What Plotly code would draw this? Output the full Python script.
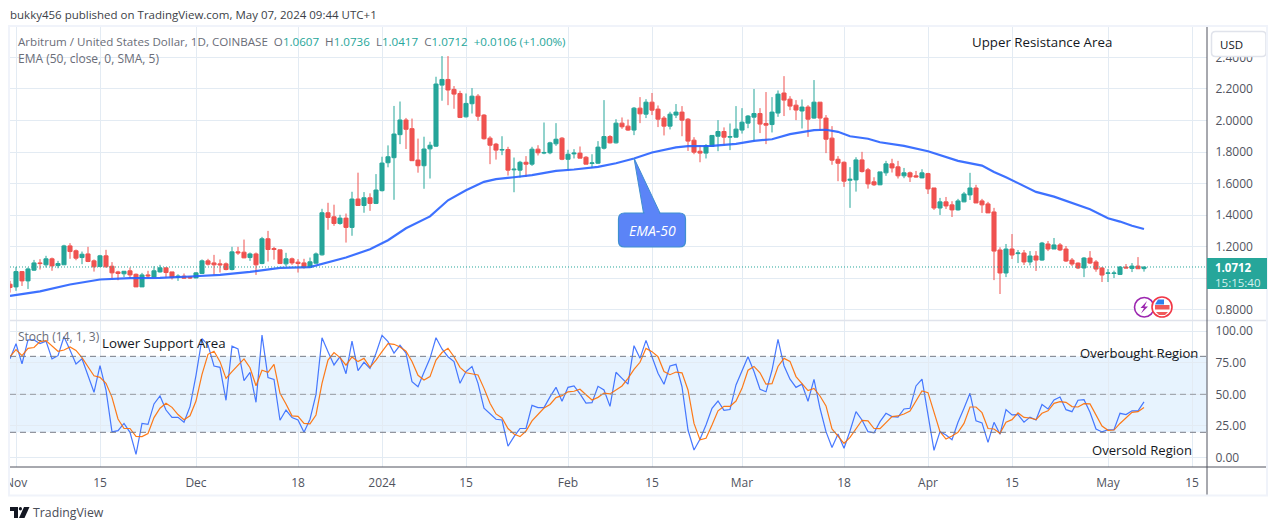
#!/usr/bin/env python
import pandas as pd
import plotly.graph_objects as go

W, H = 1281, 530

dates = pd.date_range("2023-10-31", "2024-05-07", freq="D")

# one row per day: open, high, low, close
ohlc = [
    (.962, .983, .909, .941),
    # Nov
    (.945, 1.072, .92, 1.042), (1.042, 1.045, .951, .983), (.983, 1.068, .932, 1.059), (1.051, 1.116, 1.047, 1.097),
    (1.097, 1.121, 1.055, 1.093), (1.085, 1.142, 1.068, 1.123), (1.123, 1.131, 1.047, 1.078), (1.08, 1.11, 1.063, 1.093),
    (1.085, 1.212, 1.085, 1.205), (1.205, 1.222, 1.123, 1.169), (1.174, 1.182, 1.114, 1.127), (1.131, 1.169, 1.089, 1.152),
    (1.154, 1.199, 1.102, 1.106), (1.11, 1.119, 1.042, 1.072), (1.074, 1.148, 1.07, 1.142), (1.142, 1.18, 1.068, 1.072),
    (1.076, 1.102, 1.0, 1.034), (1.04, 1.047, .987, 1.03), (1.028, 1.044, 1.008, 1.044), (1.047, 1.068, 1.0, 1.021),
    (1.025, 1.03, .945, .945), (.945, 1.034, .945, 1.021), (1.021, 1.047, 1.0, 1.015), (1.008, 1.076, 1.008, 1.047),
    (1.04, 1.085, 1.036, 1.066), (1.066, 1.066, 1.004, 1.036), (1.04, 1.04, .992, 1.004), (1.006, 1.025, .983, 1.013),
    (1.013, 1.03, .996, 1.0), (1.008, 1.013, .996, 1.002),
    # Dec
    (1.002, 1.038, 1.0, 1.034), (1.03, 1.119, 1.03, 1.11), (1.11, 1.123, 1.08, 1.089), (1.097, 1.148, 1.021, 1.085),
    (1.091, 1.119, 1.036, 1.085), (1.091, 1.1, 1.05, 1.055), (1.055, 1.199, 1.05, 1.167), (1.167, 1.199, 1.148, 1.161),
    (1.165, 1.245, 1.127, 1.129), (1.131, 1.163, 1.11, 1.154), (1.154, 1.163, 1.021, 1.085), (1.093, 1.262, 1.089, 1.25),
    (1.25, 1.3, 1.106, 1.182), (1.188, 1.199, 1.118, 1.182), (1.18, 1.18, 1.093, 1.093), (1.091, 1.161, 1.076, 1.123),
    (1.123, 1.131, 1.085, 1.097), (1.102, 1.121, 1.036, 1.093), (1.097, 1.123, 1.061, 1.068), (1.07, 1.131, 1.068, 1.104),
    (1.095, 1.163, 1.093, 1.154), (1.148, 1.44, 1.144, 1.415), (1.415, 1.478, 1.307, 1.385), (1.389, 1.466, 1.332, 1.347),
    (1.347, 1.402, 1.339, 1.381), (1.381, 1.41, 1.226, 1.322), (1.322, 1.548, 1.269, 1.502), (1.502, 1.669, 1.459, 1.461),
    (1.461, 1.546, 1.415, 1.51), (1.51, 1.538, 1.427, 1.474), (1.474, 1.66, 1.47, 1.559),
    # Jan
    (1.555, 1.77, 1.55, 1.73), (1.732, 1.842, 1.703, 1.77), (1.764, 2.092, 1.497, 1.914), (1.91, 2.12, 1.85, 2.003),
    (2.003, 2.016, 1.819, 1.944), (1.948, 2.012, 1.745, 1.745), (1.749, 1.885, 1.669, 1.713), (1.713, 1.897, 1.567, 1.819),
    (1.82, 1.865, 1.632, 1.843), (1.837, 2.277, 1.833, 2.231), (2.224, 2.408, 2.125, 2.26), (2.26, 2.408, 2.097, 2.193),
    (2.197, 2.218, 2.074, 2.167), (2.171, 2.188, 2.015, 2.019), (2.023, 2.171, 2.019, 2.108), (2.106, 2.205, 2.044, 2.154),
    (2.154, 2.167, 1.998, 2.027), (2.034, 2.04, 1.879, 1.884), (1.888, 1.9, 1.723, 1.843), (1.85, 1.858, 1.752, 1.812),
    (1.812, 1.9, 1.78, 1.816), (1.816, 1.833, 1.651, 1.685), (1.687, 1.765, 1.545, 1.691), (1.685, 1.744, 1.638, 1.735),
    (1.735, 1.774, 1.642, 1.723), (1.723, 1.833, 1.712, 1.818), (1.818, 1.843, 1.778, 1.795), (1.793, 1.987, 1.786, 1.797),
    (1.795, 1.865, 1.786, 1.858), (1.852, 1.983, 1.839, 1.881), (1.888, 1.894, 1.748, 1.754),
    # Feb
    (1.754, 1.814, 1.685, 1.786), (1.788, 1.818, 1.759, 1.793), (1.793, 1.835, 1.761, 1.761), (1.767, 1.774, 1.723, 1.723),
    (1.727, 1.786, 1.7, 1.731), (1.729, 1.869, 1.725, 1.831), (1.824, 2.129, 1.816, 1.898), (1.898, 1.907, 1.854, 1.858),
    (1.858, 2.008, 1.854, 1.983), (1.983, 2.019, 1.947, 1.96), (1.964, 2.006, 1.934, 1.939), (1.939, 2.085, 1.907, 2.078),
    (2.078, 2.148, 1.983, 2.042), (2.04, 2.135, 2.015, 2.116), (2.116, 2.174, 2.034, 2.065), (2.072, 2.095, 1.958, 2.008),
    (2.015, 2.028, 1.905, 1.964), (1.964, 2.055, 1.943, 2.04), (2.034, 2.104, 2.015, 2.053), (2.053, 2.091, 1.9, 2.002),
    (2.008, 2.015, 1.807, 1.869), (1.875, 1.894, 1.786, 1.799), (1.805, 1.843, 1.735, 1.793), (1.793, 1.85, 1.759, 1.841),
    (1.835, 1.907, 1.833, 1.905), (1.9, 2.002, 1.805, 1.93), (1.93, 1.956, 1.843, 1.894), (1.894, 1.981, 1.812, 1.898),
    (1.894, 2.091, 1.892, 1.945),
    # Mar
    (1.939, 2.078, 1.917, 1.989), (1.983, 2.034, 1.951, 2.028), (2.021, 2.199, 1.867, 2.044), (2.044, 2.078, 1.92, 1.977),
    (1.981, 2.18, 1.85, 1.97), (1.974, 2.148, 1.924, 2.053), (2.047, 2.19, 2.023, 2.167), (2.174, 2.281, 2.028, 2.129),
    (2.135, 2.154, 2.065, 2.091), (2.097, 2.129, 2.002, 2.066), (2.06, 2.133, 1.949, 2.085), (2.085, 2.097, 1.896, 2.008),
    (2.015, 2.256, 2.011, 2.116), (2.116, 2.116, 1.934, 2.015), (2.015, 2.034, 1.793, 1.881), (1.888, 1.964, 1.719, 1.748),
    (1.754, 1.774, 1.615, 1.729), (1.735, 1.74, 1.579, 1.615), (1.621, 1.704, 1.446, 1.627), (1.623, 1.767, 1.549, 1.75),
    (1.75, 1.801, 1.67, 1.676), (1.687, 1.699, 1.568, 1.598), (1.611, 1.64, 1.585, 1.592), (1.592, 1.674, 1.59, 1.674),
    (1.668, 1.744, 1.649, 1.725), (1.725, 1.757, 1.67, 1.699), (1.706, 1.744, 1.632, 1.649), (1.649, 1.699, 1.634, 1.668),
    (1.668, 1.676, 1.61, 1.642), (1.649, 1.68, 1.638, 1.642), (1.636, 1.691, 1.634, 1.668),
    # Apr
    (1.663, 1.668, 1.534, 1.566), (1.572, 1.572, 1.433, 1.445), (1.445, 1.509, 1.401, 1.484), (1.484, 1.515, 1.439, 1.458),
    (1.465, 1.488, 1.388, 1.433), (1.433, 1.503, 1.429, 1.49), (1.484, 1.547, 1.482, 1.534), (1.528, 1.668, 1.496, 1.572),
    (1.572, 1.592, 1.477, 1.477), (1.49, 1.503, 1.414, 1.465), (1.471, 1.484, 1.414, 1.414), (1.42, 1.446, .988, 1.172),
    (1.179, 1.196, .9, 1.033), (1.033, 1.217, 1.007, 1.185), (1.185, 1.28, 1.122, 1.147), (1.156, 1.179, 1.096, 1.16),
    (1.16, 1.179, 1.084, 1.103), (1.103, 1.172, 1.081, 1.141), (1.141, 1.172, 1.046, 1.115), (1.115, 1.23, 1.111, 1.223),
    (1.217, 1.236, 1.172, 1.185), (1.185, 1.255, 1.185, 1.211), (1.211, 1.223, 1.172, 1.179), (1.185, 1.204, 1.103, 1.109),
    (1.115, 1.128, 1.077, 1.09), (1.096, 1.1, 1.058, 1.065), (1.065, 1.134, 1.007, 1.128), (1.128, 1.172, 1.09, 1.096),
    (1.103, 1.115, 1.041, 1.058), (1.065, 1.071, .976, 1.02),
    # May
    (1.031, 1.058, .976, 1.033), (1.03, 1.048, 1.001, 1.033), (1.024, 1.077, 1.02, 1.071), (1.071, 1.09, 1.064, 1.065),
    (1.062, 1.096, 1.039, 1.077), (1.077, 1.134, 1.06, 1.06), (1.0607, 1.0736, 1.0417, 1.0712),
]

ema_dates = [
    "2023-10-31", "2023-11-05", "2023-11-10", "2023-11-15", "2023-11-20", "2023-11-25", "2023-11-30",
    "2023-12-05", "2023-12-10", "2023-12-15", "2023-12-20", "2023-12-23", "2023-12-26", "2023-12-30",
    "2024-01-02", "2024-01-05", "2024-01-09", "2024-01-12", "2024-01-15", "2024-01-18", "2024-01-20",
    "2024-01-23", "2024-01-26", "2024-01-30", "2024-02-02", "2024-02-06", "2024-02-09", "2024-02-12",
    "2024-02-15", "2024-02-19", "2024-02-21", "2024-02-25", "2024-02-29", "2024-03-03", "2024-03-06",
    "2024-03-09", "2024-03-13", "2024-03-15", "2024-03-17", "2024-03-19", "2024-03-22", "2024-03-24",
    "2024-03-28", "2024-04-01", "2024-04-04", "2024-04-06", "2024-04-10", "2024-04-12", "2024-04-14",
    "2024-04-17", "2024-04-19", "2024-04-22", "2024-04-25", "2024-04-28", "2024-05-01", "2024-05-03",
    "2024-05-05", "2024-05-07",
]
ema_values = [
    .888, .917, .96, .992, 1.0, 1.002, 1.011,
    1.021, 1.04, 1.066, 1.07, 1.099, 1.131, 1.184,
    1.241, 1.317, 1.392, 1.494, 1.558, 1.611, 1.628,
    1.64, 1.653, 1.68, 1.689, 1.706, 1.729, 1.759,
    1.797, 1.829, 1.837, 1.839, 1.852, 1.871, 1.881,
    1.913, 1.939, 1.941, 1.928, 1.9, 1.884, 1.862,
    1.839, 1.805, 1.767, 1.744, 1.714, 1.674, 1.64,
    1.585, 1.547, 1.517, 1.479, 1.437, 1.38, 1.359,
    1.333, 1.312,
]

stoch_k = [
    78,
    90, 74, 93, 93, 90, 92, 78, 80.5, 95.5, 85, 74, 78, 65, 51.6, 72.6, 53.4, 20.3, 21.3, 27, 20, 2.6, 27, 26.3, 42.4,
    48.7, 37.6, 31.8, 31.8, 27.9, 40.3,
    65, 94, 89, 72.4, 71.3, 45.3, 88, 85.8, 60.8, 67.4, 43.7, 96.8, 63.2, 61.8, 29.5, 37.6, 31.6, 29.7, 20, 30.3, 50,
    94.7, 83.7, 73.2, 79.7, 66.3, 92, 68.7, 75.3, 70.5, 82.4,
    96.6, 91.6, 82.6, 88.7, 82.6, 60, 56, 67.4, 78.4, 94.7, 85.8, 79.7, 75.8, 58.7, 68, 72, 58.7, 39, 34.5, 30.3, 29.7,
    9, 16.6, 23, 23, 41.3, 39.5, 39.5, 48, 55.5, 44.5,
    55.5, 56.6, 50.3, 43, 43.4, 56.3, 53.4, 40.5, 67.4, 62.6, 58, 88.4, 78.4, 92.6, 79.7, 66.6, 58, 72.4, 73.7, 56, 21.8,
    6, 14.5, 25.8, 39, 44.7, 37.4, 38, 57.4,
    68.7, 79.7, 68, 54, 52, 69, 93.4, 72.6, 62, 55.5, 58, 44.5, 61.8, 39, 20.5, 8, 18.7, 7.4, 21, 36.3, 29.7, 20.5, 19.5,
    28.4, 35, 32.4, 32, 38.4, 39, 56.6, 62,
    33.7, 5.8, 20.5, 17.9, 14.2, 27.9, 39, 50.8, 29, 27.4, 12, 27.9, 18.4, 38, 33.7, 34, 28, 32, 29.7, 42, 38.4, 45.5,
    47.9, 37.9, 36.3, 45.3, 45.8, 35.8, 22.6, 20.3,
    22, 22, 35, 34, 37, 37, 44,
]
stoch_d = [
    79.7,
    85.3, 80.5, 86.3, 87, 91.6, 92.4, 88, 84, 85, 87.4, 84.7, 79, 71.8, 64.7, 63.4, 58.7, 47.6, 30.5, 23, 23, 16.8, 16.6,
    19, 31.6, 39, 43, 39.7, 34, 30, 33,
    44.7, 65.8, 81.6, 84, 75.8, 62.6, 68, 73, 78, 71, 56.8, 69, 67.4, 73.7, 50.8, 42.4, 33, 32.6, 27, 26.6, 33.7, 58.7,
    77, 83, 79, 73, 79.5, 75.8, 78.4, 71.3, 77,
    83.7, 90, 89.5, 87.4, 84, 76, 65, 61.3, 64, 77, 83, 86.3, 79.7, 71.3, 67, 66.3, 65.3, 54.7, 43, 34.5, 31.3, 23, 18.7,
    16.6, 21, 29, 34.5, 39.2, 42, 47.4, 49,
    52, 52.4, 54, 49.7, 45.5, 47.6, 51, 50.3, 53.4, 56.6, 62.6, 69.7, 75.3, 86.3, 83.7, 79.7, 68, 65.5, 67.6, 67, 53.4,
    27, 14, 15.3, 25.8, 37, 40.5, 40.5, 44.7,
    54.7, 69, 72, 67, 58, 58.4, 72, 78.4, 76, 64, 58.7, 53, 54.7, 48.7, 40.8, 22.6, 17, 11.3, 16, 23, 29.5, 29, 23, 22.9,
    27.9, 32.4, 32.9, 34.5, 36.8, 44.2, 52.6,
    51.3, 35, 20.5, 14.7, 17, 20, 27, 40, 40, 35.5, 23, 22.6, 19.2, 28, 30, 35.3, 31.8, 31.3, 30, 35, 37, 42.9, 44.2,
    43.7, 40.3, 40, 42.6, 42.4, 33.7, 25,
    21.6, 21.8, 27, 31.3, 35.8, 36.3, 39.5,
]

x_tickvals = ["2023-11-01", "2023-11-15", "2023-12-01", "2023-12-18", "2024-01-01", "2024-01-15", "2024-02-01",
              "2024-02-15", "2024-03-01", "2024-03-18", "2024-04-01", "2024-04-15", "2024-05-01", "2024-05-15"]
x_ticktext = ["Nov", "15", "Dec", "18", "2024", "15", "Feb", "15", "Mar", "18", "Apr", "15", "May", "15"]
price_ticks = [0.8, 1.0, 1.2, 1.4, 1.6, 1.8, 2.0, 2.2, 2.4]
# 1.0000 sits behind the last price label
price_ticktext = ["0.8000", "", "1.2000", "1.4000", "1.6000", "1.8000", "2.0000", "2.2000", "2.4000"]
stoch_ticks = [0, 25, 50, 75, 100]
last_close = 1.0712

UP = "#26a69a"
DOWN = "#ef5350"
GRID = "#e3ebf3"
AXIS = "#50535e"
TICK = "#50535e"
FONT = "Open Sans"


def px(x):
    return x / W


def py(y):
    return 1 - y / H


def round_path(x0, y0, x1, y1, r):
    return (f"M{px(x0 + r)},{py(y0)} L{px(x1 - r)},{py(y0)} Q{px(x1)},{py(y0)} {px(x1)},{py(y0 + r)} "
            f"L{px(x1)},{py(y1 - r)} Q{px(x1)},{py(y1)} {px(x1 - r)},{py(y1)} "
            f"L{px(x0 + r)},{py(y1)} Q{px(x0)},{py(y1)} {px(x0)},{py(y1 - r)} "
            f"L{px(x0)},{py(y0 + r)} Q{px(x0)},{py(y0)} {px(x0 + r)},{py(y0)} Z")


def poly(points):
    return "M" + " L".join(f"{px(x)},{py(y)}" for x, y in points) + " Z"


fig = go.Figure()
fig.add_trace(go.Candlestick(
    x=dates,
    open=[r[0] for r in ohlc], high=[r[1] for r in ohlc],
    low=[r[2] for r in ohlc], close=[r[3] for r in ohlc],
    increasing=dict(line=dict(color=UP, width=1), fillcolor=UP),
    decreasing=dict(line=dict(color=DOWN, width=1), fillcolor=DOWN),
    whiskerwidth=0, xaxis="x", yaxis="y"))
fig.add_trace(go.Scatter(x=ema_dates, y=ema_values, mode="lines", line=dict(color="#2962ff", width=2.2),
                         opacity=0.9, xaxis="x", yaxis="y"))
fig.add_trace(go.Scatter(x=dates, y=stoch_k, mode="lines", line=dict(color="#2962ff", width=1.2), opacity=0.85,
                         xaxis="x2", yaxis="y2"))
fig.add_trace(go.Scatter(x=dates, y=stoch_d, mode="lines", line=dict(color="#ff6d00", width=1.2), opacity=0.9,
                         xaxis="x2", yaxis="y2"))

x_dom = [px(10), px(1207)]
x_range = ["2023-10-31", "2024-05-17 12:00"]

shapes = [
    # stochastic band and its levels
    dict(type="rect", xref="paper", yref="y2", x0=x_dom[0], x1=x_dom[1], y0=20, y1=80,
         fillcolor="rgba(33,150,243,0.11)", line_width=0, layer="below"),
    dict(type="line", xref="paper", yref="y2", x0=x_dom[0], x1=x_dom[1], y0=80, y1=80,
         line=dict(color="#787b86", width=1, dash="6px,4px")),
    dict(type="line", xref="paper", yref="y2", x0=x_dom[0], x1=x_dom[1], y0=50, y1=50,
         line=dict(color="#9598a1", width=1, dash="6px,4px")),
    dict(type="line", xref="paper", yref="y2", x0=x_dom[0], x1=x_dom[1], y0=20, y1=20,
         line=dict(color="#787b86", width=1, dash="6px,4px")),
    # last price line
    dict(type="line", xref="paper", yref="y", x0=x_dom[0], x1=x_dom[1], y0=last_close, y1=last_close,
         line=dict(color=UP, width=1, dash="1px,2px")),
    # frame
    dict(type="line", xref="paper", yref="paper", x0=px(10), x1=px(1267), y0=py(320.5), y1=py(320.5),
         line=dict(color="#e0e3eb", width=1.5)),
    dict(type="line", xref="paper", yref="paper", x0=px(10), x1=px(1266), y0=py(467), y1=py(467),
         line=dict(color=AXIS, width=1)),
    dict(type="line", xref="paper", yref="paper", x0=px(1207), x1=px(1207), y0=py(27), y1=py(495),
         line=dict(color=AXIS, width=1)),
    # cover for what the frame crops: left of "Nov", top of 2.4000
    dict(type="rect", xref="paper", yref="paper", x0=0, x1=px(9), y0=py(468), y1=py(495),
         fillcolor="white", line_width=0),
    dict(type="path", xref="paper", yref="paper", path=round_path(1211.5, 31.5, 1266, 56.5, 4),
         fillcolor="white", line=dict(color="#e0e3eb", width=1.5)),
    dict(type="rect", xref="paper", yref="paper", x0=px(9), x1=px(1267), y0=py(26), y1=py(495.5),
         fillcolor="rgba(0,0,0,0)", line=dict(color="#f0f3fa", width=2)),
    # last price label
    dict(type="rect", xref="paper", yref="paper", x0=px(1207), x1=px(1267), y0=py(258), y1=py(289),
         fillcolor=UP, line_width=0),
    # EMA-50 callout
    dict(type="path", xref="paper", yref="paper",
         path=poly([(634, 158), (643.5, 213), (660, 213)]), fillcolor="#5b84f7", line=dict(color="#3f8fd0", width=1)),
    dict(type="path", xref="paper", yref="paper", path=round_path(618.5, 213, 685.5, 247, 6),
         fillcolor="#5b84f7", line=dict(color="#3f8fd0", width=1.2)),
    dict(type="path", xref="paper", yref="paper", path=poly([(644.5, 212), (659, 212), (659, 215), (644.5, 215)]),
         fillcolor="#5b84f7", line_width=0),
    # badges
    dict(type="circle", xref="paper", yref="paper", x0=px(1134.5), x1=px(1154), y0=py(297.5), y1=py(317),
         fillcolor="white", line=dict(color="#9c27b0", width=1.6)),
    dict(type="path", xref="paper", yref="paper",
         path=poly([(1147, 301), (1140.5, 308), (1144, 308), (1141, 313.5), (1148, 306.5), (1144.5, 306.5)]),
         fillcolor="#9c27b0", line_width=0),
    dict(type="circle", xref="paper", yref="paper", x0=px(1152), x1=px(1172), y0=py(297), y1=py(317),
         fillcolor="white", line=dict(color="#f23645", width=1.6)),
    dict(type="rect", xref="paper", yref="paper", x0=px(1155), x1=px(1169.5), y0=py(305), y1=py(309.5),
         fillcolor="#f05a5a", line_width=0),
    dict(type="path", xref="paper", yref="paper", path=poly([(1156, 312), (1168, 312), (1165, 315), (1159, 315)]),
         fillcolor="#f05a5a", line_width=0),
    dict(type="path", xref="paper", yref="paper", path=poly([(1155, 304.5), (1164, 304.5), (1164, 299.5), (1158, 299.5)]),
         fillcolor="#2f80ed", line_width=0),
    # logo
    dict(type="path", xref="paper", yref="paper", path=poly([(10, 507), (18, 507), (18, 518), (14, 518), (14, 511), (10, 511)]),
         fillcolor="#131722", line_width=0),
    dict(type="circle", xref="paper", yref="paper", x0=px(18.8), x1=px(22), y0=py(507), y1=py(510.5),
         fillcolor="#131722", line_width=0),
    dict(type="path", xref="paper", yref="paper", path=poly([(24, 507), (29.5, 507), (24.5, 518), (19, 518)]),
         fillcolor="#131722", line_width=0),
]
for s in shapes:
    s.setdefault("layer", "above")


def label(x, y, text, color="#131722", size=13, xanchor="left", **kw):
    # annotations carry about 2px of padding on the left
    x = x - 2 if xanchor == "left" else x
    return dict(xref="paper", yref="paper", x=px(x), y=py(y), text=text, showarrow=False, xanchor=xanchor,
                yanchor="middle", font=dict(family=FONT, size=size, color=color), **kw)


def val(s):
    return f'<span style="color:{UP}">{s}</span>'


annotations = [
    label(10, 15, "bukky456 published on TradingView.com, May 07, 2024 09:44 UTC+1", color="#3c3f48", size=11.5),
    label(18, 42, "Arbitrum / United States Dollar, 1D, COINBASE  O" + val("1.0607") + "  H" + val("1.0736")
          + "  L" + val("1.0417") + "  C" + val("1.0712") + "  " + val("+0.0106 (+1.00%)"), color="#6a6d78", size=11.6),
    label(18, 59, "EMA (50, close, 0, SMA, 5)", color="#6a6d78", size=12),
    label(18, 336, "Stoch (14, 1, 3)", color="#6a6d78", size=12),
    label(102, 343, "Lower Support Area", size=13.3),
    label(972, 42, "Upper Resistance Area", size=13.3),
    label(1080, 353, "Overbought Region", size=13.1),
    label(1092, 450, "Oversold Region", size=13.1),
    label(1220, 45, "USD", color="#131722", size=11.5),
    label(652, 230, "<i>EMA-50</i>", color="white", size=14, xanchor="center"),
    label(1215, 274.5, '<b>1.0712</b><br><span style="color:#d6f0ed">15:15:40</span>', color="white", size=11.5,
          align="left"),
    label(33, 512, "TradingView", color="#4a4d57", size=12.3),
]

fig.update_layout(
    width=W, height=H, margin=dict(l=0, r=0, t=0, b=0, autoexpand=False),
    paper_bgcolor="white", plot_bgcolor="white", showlegend=False, boxgap=0.15, boxgroupgap=0.2,
    font=dict(family=FONT, size=12, color=TICK),
    xaxis=dict(domain=x_dom, range=x_range, anchor="y", type="date", rangeslider=dict(visible=False),
               tickmode="array", tickvals=x_tickvals, showticklabels=False, showgrid=True, gridcolor=GRID,
               gridwidth=1, zeroline=False),
    xaxis2=dict(domain=x_dom, range=x_range, anchor="y2", type="date", matches="x",
                tickmode="array", tickvals=x_tickvals, ticktext=x_ticktext, ticks="outside", ticklen=5,
                tickcolor="rgba(0,0,0,0)", showgrid=True, gridcolor=GRID, gridwidth=1, zeroline=False,
                tickfont=dict(size=12, color=TICK)),
    yaxis=dict(domain=[py(320.5), py(27)], range=[0.732, 2.5924], anchor="x", side="right",
               tickmode="array", tickvals=price_ticks, ticktext=price_ticktext, ticks="outside", ticklen=5,
               tickcolor="rgba(0,0,0,0)", showgrid=True, gridcolor=GRID, gridwidth=1, zeroline=False,
               tickfont=dict(size=12, color=TICK)),
    yaxis2=dict(domain=[py(467), py(320.5)], range=[-7.4, 108.3], anchor="x2", side="right",
                tickmode="array", tickvals=stoch_ticks, tickformat=".2f", ticks="outside", ticklen=5,
                tickcolor="rgba(0,0,0,0)", showgrid=True, gridcolor=GRID, gridwidth=1, zeroline=False,
                tickfont=dict(size=12, color=TICK)),
    shapes=shapes, annotations=annotations,
)

fig.write_html("out.html", post_script="document.body.style.margin='0';", config=dict(displayModeBar=False))
